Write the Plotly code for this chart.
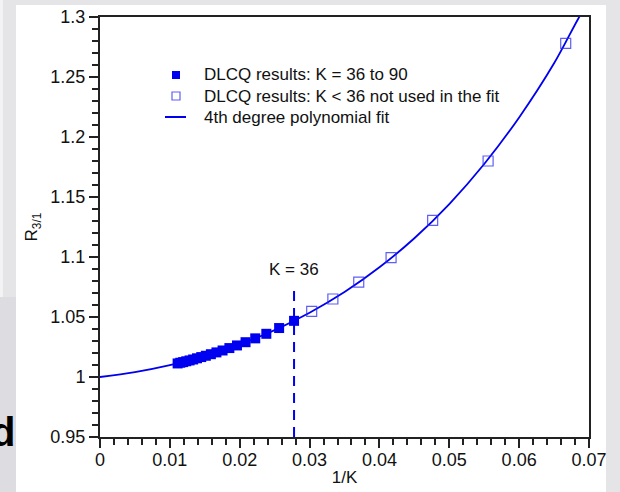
import plotly.graph_objects as go

# ---- data ----
K_fit = [90, 87, 84, 81, 78, 75, 72, 69, 66, 63, 60, 57, 54, 51, 48, 45, 42, 39, 36]
R_fit = [1.0113, 1.0119, 1.0124, 1.0131, 1.0138, 1.0146, 1.0156, 1.0166, 1.0177, 1.0190,
         1.0205, 1.0221, 1.0241, 1.0263, 1.0290, 1.0322, 1.0360, 1.0408, 1.0468]
K_not = [33, 30, 27, 24, 21, 18, 15]
R_not = [1.0547, 1.0650, 1.0791, 1.0994, 1.1305, 1.1800, 1.2780]

curve_x = [0.0, 0.005, 0.010, 0.015, 0.020, 0.025, 0.030, 0.035, 0.040, 0.045,
           0.050, 0.055, 0.060, 0.065, 0.0685, 0.070]
curve_y = [1.0000, 1.0040, 1.0098, 1.0174, 1.0272, 1.0391, 1.0536, 1.0708, 1.0914, 1.1156,
           1.1441, 1.1775, 1.2163, 1.2614, 1.2990, 1.3135]

K_mark = 36
mark_y = [0.95, 1.075]

x_ticks = [0, 0.01, 0.02, 0.03, 0.04, 0.05, 0.06, 0.07]
x_ticktext = ["0", "0.01", "0.02", "0.03", "0.04", "0.05", "0.06", "0.07"]
y_ticks = [0.95, 1.0, 1.05, 1.1, 1.15, 1.2, 1.25, 1.3]
y_ticktext = ["0.95", "1", "1.05", "1.1", "1.15", "1.2", "1.25", "1.3"]

legend_labels = ["DLCQ results: K = 36 to 90",
                 "DLCQ results: K < 36 not used in the fit",
                 "4th degree polynomial fit"]

FONT = "Liberation Sans, Arial, Helvetica, sans-serif"
BLUE = "#0000f0"
OPEN_BLUE = "rgba(40,40,240,0.75)"

x_fit = [1.0 / k for k in K_fit]
x_not = [1.0 / k for k in K_not]

fig = go.Figure()

fig.add_trace(go.Scatter(
    x=curve_x, y=curve_y, mode="lines", line=dict(color=BLUE, width=1.8, shape="spline"),
    name=legend_labels[2], showlegend=False))

fig.add_trace(go.Scatter(
    x=[1.0 / K_mark, 1.0 / K_mark], y=mark_y, mode="lines",
    line=dict(color=BLUE, width=2, dash="10px,7px"), showlegend=False, hoverinfo="skip"))

fig.add_trace(go.Scatter(
    x=x_fit, y=R_fit, mode="markers",
    marker=dict(symbol="square", size=10, color=BLUE, line=dict(width=0)),
    name=legend_labels[0], showlegend=False))

fig.add_trace(go.Scatter(
    x=x_not, y=R_not, mode="markers",
    marker=dict(symbol="square-open", size=10, color=OPEN_BLUE, line=dict(width=1.2)),
    name=legend_labels[1], showlegend=False))

fig.add_annotation(x=1.0 / K_mark, y=1.09, xref="x", yref="y", text="K = 36",
                   showarrow=False, font=dict(family=FONT, size=17, color="#111"))

# pixel helpers for paper-positioned decorations
W, H = 620, 492
L, R, T, B = 100, 31, 17, 55
pw, ph = W - L - R, H - T - B
def px(x):
    return (x - L) / pw
def py(y):
    return (H - B - y) / ph

# screenshot background pieces
fig.add_shape(type="rect", xref="paper", yref="paper", x0=px(16), x1=px(606), y0=py(492), y1=py(5),
              fillcolor="white", line=dict(width=0), layer="below")
fig.add_shape(type="rect", xref="paper", yref="paper", x0=px(0), x1=px(16), y0=py(492), y1=py(297),
              fillcolor="#dcdce1", line=dict(width=0), layer="below")
fig.add_shape(type="rect", xref="paper", yref="paper", x0=px(0), x1=px(3), y0=py(297), y1=py(0),
              fillcolor="#f3f3f3", line=dict(width=0), layer="below")
fig.add_annotation(xref="paper", yref="paper", x=px(17), y=py(456), xanchor="right", yanchor="bottom",
                   text="<b>d</b>", showarrow=False, font=dict(family=FONT, size=40, color="black"))

# legend (drawn manually to match the row spacing)
rows_y = [75, 96, 117]
fig.add_shape(type="rect", xref="paper", yref="paper", x0=px(172), x1=px(180),
              y0=py(rows_y[0] + 4), y1=py(rows_y[0] - 4), fillcolor=BLUE, line=dict(width=0))
fig.add_shape(type="rect", xref="paper", yref="paper", x0=px(172), x1=px(180),
              y0=py(rows_y[1] + 4), y1=py(rows_y[1] - 4), fillcolor="rgba(0,0,0,0)",
              line=dict(color=OPEN_BLUE, width=1.2))
fig.add_shape(type="line", xref="paper", yref="paper", x0=px(165), x1=px(186),
              y0=py(rows_y[2]), y1=py(rows_y[2]), line=dict(color=BLUE, width=2))
for lab, yy in zip(legend_labels, rows_y):
    fig.add_annotation(xref="paper", yref="paper", x=px(202), y=py(yy), xanchor="left", yanchor="middle",
                       text=lab, showarrow=False, font=dict(family=FONT, size=17, color="#111"))

fig.update_layout(
    width=W, height=H,
    margin=dict(l=L, r=R, t=T, b=B, autoexpand=False),
    paper_bgcolor="#e5e5e8",
    plot_bgcolor="white",
    font=dict(family=FONT, size=18, color="#111"),
    showlegend=False,
)

fig.update_xaxes(
    range=[0, 0.07], tickvals=x_ticks, ticktext=x_ticktext,
    ticks="outside", ticklen=9, tickwidth=1.5, tickcolor="#222",
    minor=dict(dtick=0.002, tick0=0, ticks="outside", ticklen=6, tickwidth=1.5, tickcolor="#222"),
    showline=True, linecolor="#222", linewidth=2, mirror=True,
    showgrid=False, zeroline=False, automargin=False,
    ticklabelstandoff=-4,
    title=dict(text="1/K", font=dict(size=17), standoff=3),
    tickfont=dict(size=18),
)
fig.update_yaxes(
    range=[0.95, 1.3], tickvals=y_ticks, ticktext=y_ticktext,
    ticks="outside", ticklen=9, tickwidth=1.5, tickcolor="#222",
    minor=dict(dtick=0.01, tick0=0.95, ticks="outside", ticklen=6, tickwidth=1.5, tickcolor="#222"),
    showline=True, linecolor="#222", linewidth=2, mirror=True,
    showgrid=False, zeroline=False, automargin=False,
    title=dict(text="R<sub>3/1</sub>", font=dict(size=17), standoff=8),
    tickfont=dict(size=18),
)

fig.write_html("out.html")
